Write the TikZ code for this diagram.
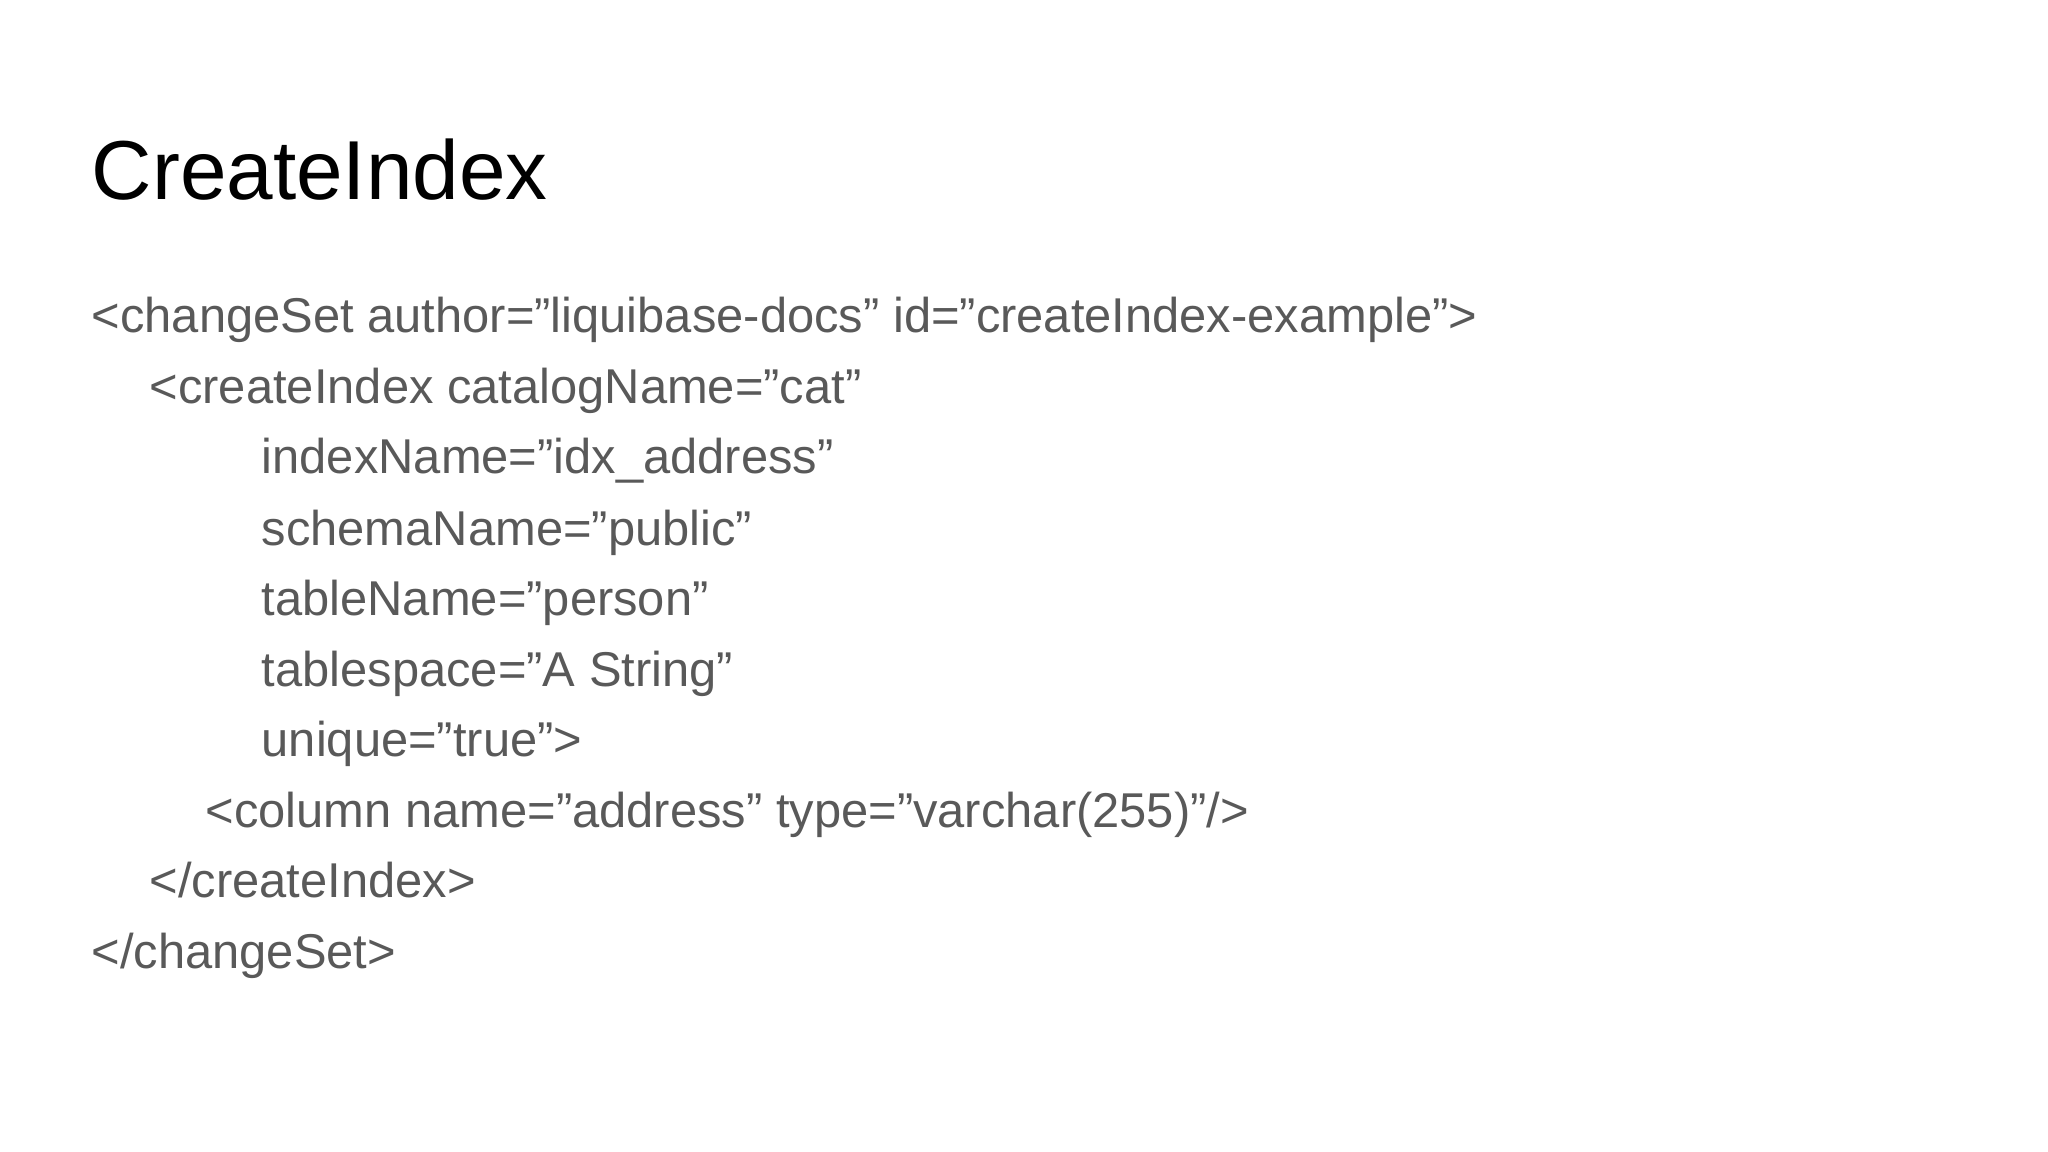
\documentclass[tikz,border=0pt]{standalone}
\usepackage{fontspec}
\setmainfont{Liberation Sans}
\definecolor{codegray}{HTML}{595959}
\begin{document}
\begin{tikzpicture}[x=0.01cm,y=-0.01cm,
  title/.style={anchor=base west,inner sep=0pt,font=\fontsize{23.8}{28}\selectfont,text=black},
  code/.style={anchor=base west,inner sep=0pt,font=\fontsize{13.9}{16}\selectfont,text=codegray}]
\useasboundingbox (0,0) rectangle (2048,1152);
\node[title] (t) at (91,200) {CreateIndex};
\node[code] (l1) at (91,333) {<changeSet author="liquibase-docs" id="createIndex-example">};
\node[code] (l2) at (149,404) {<createIndex catalogName="cat"};
\node[code] (l3) at (261,474) {indexName="idx\_address"};
\node[code] (l4) at (261,545) {schemaName="public"};
\node[code] (l5) at (261,615) {tableName="person"};
\node[code] (l6) at (261,686) {tablespace="A String"};
\node[code] (l7) at (261,756) {unique="true">};
\node[code] (l8) at (205,827) {<column name="address" type="varchar(255)"/>};
\node[code] (l9) at (149,897) {</createIndex>};
\node[code] (l10) at (91,968) {</changeSet>};
\end{tikzpicture}
\end{document}
